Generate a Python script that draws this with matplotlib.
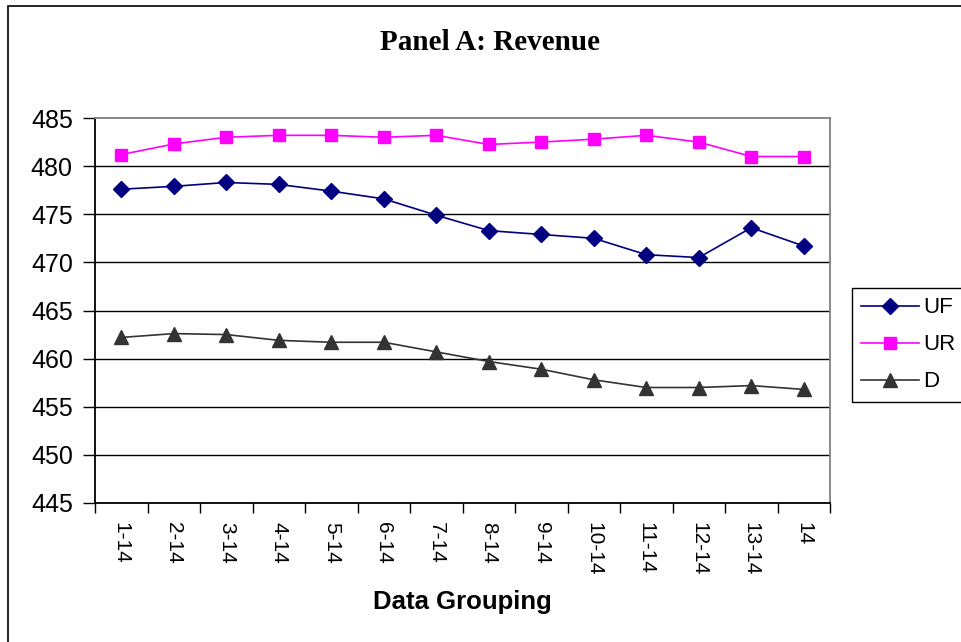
import matplotlib
matplotlib.use("Agg")
import matplotlib.pyplot as plt
from matplotlib.patches import Rectangle
import numpy as np

grupos = ["1-14", "2-14", "3-14", "4-14", "5-14", "6-14", "7-14",
          "8-14", "9-14", "10-14", "11-14", "12-14", "13-14", "14"]
uf = [477.6, 477.9, 478.3, 478.1, 477.4, 476.6, 474.9,
      473.3, 472.9, 472.5, 470.8, 470.5, 473.6, 471.7]
ur = [481.2, 482.3, 483.0, 483.2, 483.2, 483.0, 483.2,
      482.25, 482.5, 482.8, 483.2, 482.5, 481.0, 481.0]
d = [462.2, 462.6, 462.5, 461.9, 461.7, 461.7, 460.7,
     459.7, 458.9, 457.8, 457.0, 457.0, 457.2, 456.8]
yticks = [445, 450, 455, 460, 465, 470, 475, 480, 485]

W, H = 961, 642
fig = plt.figure(figsize=(W / 100, H / 100), dpi=100)
ax = fig.add_axes([95 / W, 1 - 503 / H, 735 / W, 385 / H])

x = np.arange(len(grupos))
ax.plot(x, uf, color="#000080", lw=1.2, marker="D", ms=8, label="UF", zorder=3)
ax.plot(x, ur, color="#FF00FF", lw=1.2, marker="s", ms=8.5, label="UR", zorder=3)
ax.plot(x, d, color="#333333", lw=1.2, marker="^", ms=10, label="D", zorder=3)

ax.set_ylim(445, 485)
ax.set_xlim(-0.5, len(grupos) - 0.5)
ax.set_yticks(yticks)
ax.set_yticklabels([str(v) for v in yticks], fontsize=18, fontfamily="Liberation Sans")
ax.tick_params(axis="y", length=9, width=1, pad=7)

# rótulos no centro, traços nas divisas
ax.set_xticks(x)
ax.set_xticklabels(grupos, rotation=270, fontsize=15, fontfamily="Liberation Sans")
ax.set_xticks(np.arange(-0.5, len(grupos)), minor=True)
ax.tick_params(axis="x", which="major", length=0, pad=14)
ax.tick_params(axis="x", which="minor", length=7, width=1)

for v in yticks[1:-1]:
    ax.axhline(v, color="black", lw=1, zorder=1)

ax.spines["left"].set_color("black")
ax.spines["bottom"].set_color("black")
ax.spines["top"].set_color("#808080")
ax.spines["right"].set_color("#808080")
for s in ax.spines.values():
    s.set_linewidth(1.3)

fig.text(490 / W, 1 - 43 / H, "Panel A: Revenue", ha="center", va="center",
         fontsize=21, fontweight="bold", fontfamily="Liberation Serif")
fig.text(462.5 / W, 1 - 602 / H, "Data Grouping", ha="center", va="center",
         fontsize=18.5, fontweight="bold", fontfamily="Liberation Sans")

leg = ax.legend(loc="upper left", bbox_to_anchor=(852 / W, 1 - 402 / H, 0.15, 114 / H),
                bbox_transform=fig.transFigure, mode="expand", borderaxespad=0,
                prop={"family": "Liberation Sans", "size": 16}, handlelength=2.6,
                handletextpad=0.2, labelspacing=0.72, borderpad=0.42,
                fancybox=False, framealpha=1)
leg.get_frame().set_edgecolor("black")
leg.get_frame().set_linewidth(1)

# moldura externa do gráfico
fig.add_artist(Rectangle((8 / W, -0.1), 1.2, 1.1 - 6 / H, transform=fig.transFigure,
                         fill=False, edgecolor="black", lw=1.2, clip_on=False))

fig.savefig("out.png", dpi=100)
